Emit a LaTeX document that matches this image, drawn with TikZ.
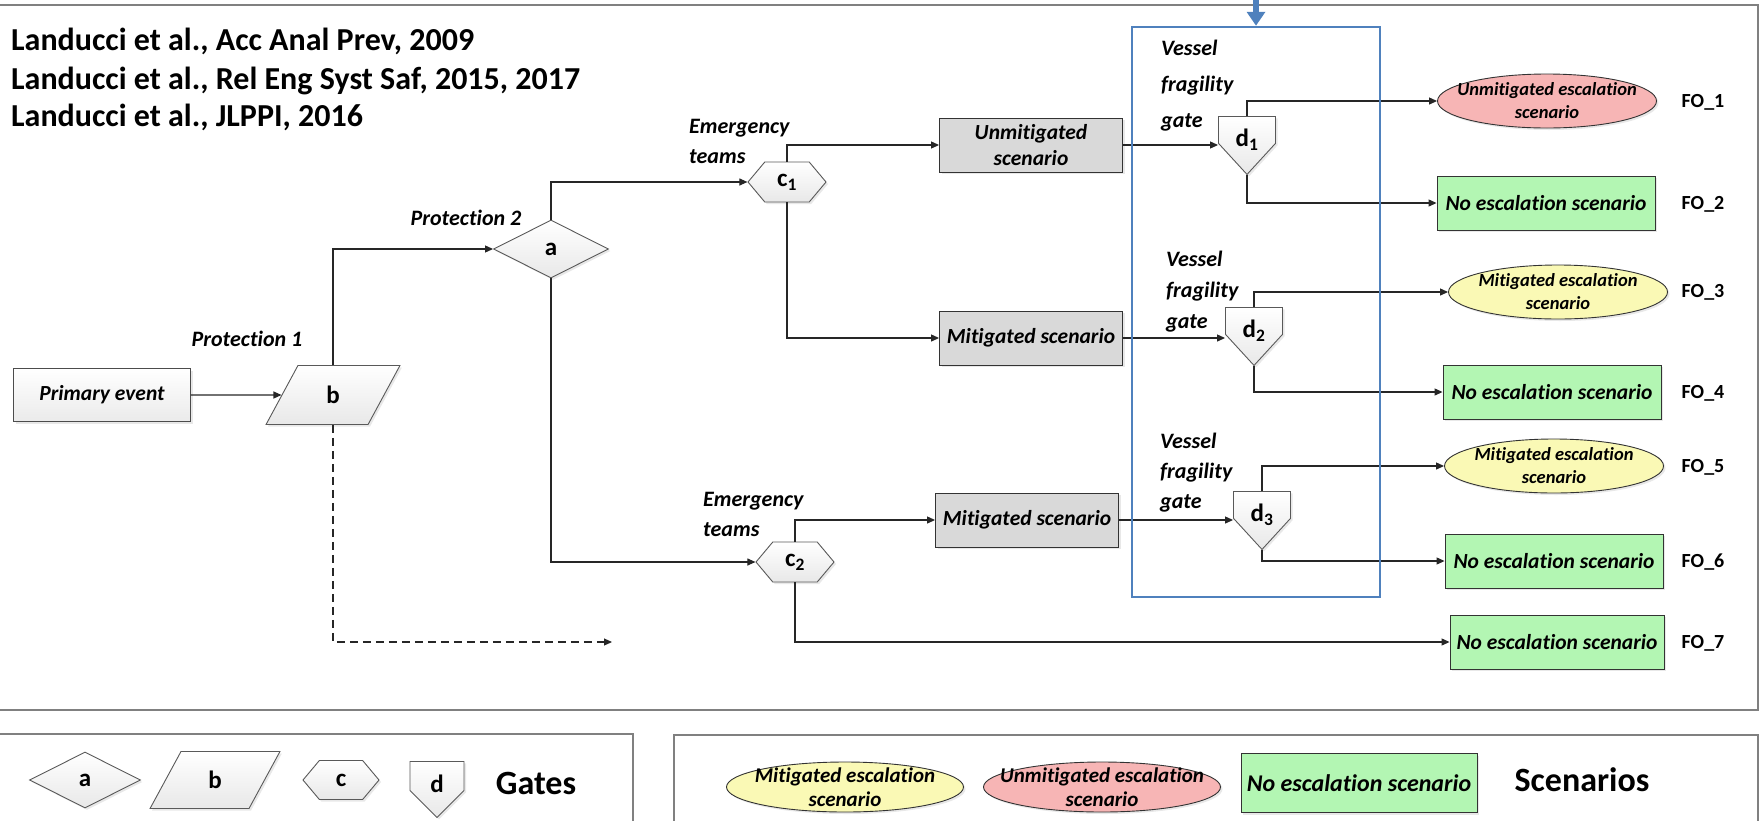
\documentclass[tikz,border=0pt]{standalone}
\usepackage{fontspec}
\setmainfont{Carlito}[Ligatures=NoCommon]
\usetikzlibrary{positioning,shapes.geometric,shapes.symbols,arrows.meta,shadows}

\definecolor{escgreen}{HTML}{B3F6B3}
\definecolor{escpink}{HTML}{F7B5B5}
\definecolor{escyellow}{HTML}{FAF9B5}
\definecolor{scengray}{HTML}{D9D9D9}
\definecolor{fragblue}{HTML}{4F81BD}
\definecolor{framegray}{HTML}{808080}

\newcommand{\reffont}{\fontsize{32}{38}\selectfont\bfseries}
\newcommand{\gatefont}{\fontsize{25}{30}\selectfont\bfseries}
\newcommand{\tagfont}{\fontsize{22}{30}\selectfont\bfseries\itshape}
\newcommand{\boxfont}{\fontsize{21.5}{26}\selectfont\bfseries\itshape}
\newcommand{\noescfont}{\fontsize{21.5}{26}\selectfont\bfseries\itshape}
\newcommand{\esctextfont}{\fontsize{18.5}{23}\selectfont\bfseries\itshape}
\newcommand{\legtextfont}{\fontsize{21}{24}\selectfont\bfseries\itshape}
\newcommand{\fofont}{\fontsize{20}{24}\selectfont\bfseries}
\newcommand{\legtitlefont}{\fontsize{34}{40}\selectfont\bfseries}
% label of a fragility gate, sitting low in the pentagon
\newcommand{\dlabel}[1]{\raisebox{-17pt}[0pt][0pt]{#1}}

\tikzset{
  conn/.style={-{Triangle[length=8pt,width=7pt]}, line width=1.1pt, black!85},
  softshadow/.style={drop shadow={shadow xshift=2pt,shadow yshift=-2pt,opacity=0.18}},
  gate/.style={draw=black!65, line width=0.9pt, top color=white, bottom color=black!9, inner sep=0pt, font=\gatefont, softshadow},
  gatea/.style={gate, diamond, aspect=2},
  gateb/.style={gate, trapezium, trapezium left angle=71, trapezium right angle=109, trapezium stretches=true},
  gatec/.style={gate, signal, signal to=east and west, signal pointer angle=100},
  gated/.style={gate, signal, signal to=south, align=center, anchor=north},
  tag/.style={font=\tagfont, align=left, inner sep=0pt},
  primbox/.style={draw=black!70, line width=0.9pt, top color=white, bottom color=black!8, font=\boxfont, softshadow},
  scenbox/.style={draw=black!80, line width=0.9pt, fill=scengray, font=\boxfont, align=center, inner sep=1pt, minimum width=183, minimum height=54, softshadow},
  noesc/.style={draw=black!80, line width=0.9pt, fill=escgreen, font=\noescfont, inner sep=1pt, minimum width=218, minimum height=54, softshadow},
  escell/.style={ellipse, draw=black!80, line width=0.9pt, inner sep=0pt, minimum width=219, minimum height=54, softshadow},
  escmit/.style={escell, fill=escyellow},
  escunm/.style={escell, fill=escpink},
  esctext/.style={font=\esctextfont, align=center, inner sep=0pt},
  legtext/.style={font=\legtextfont, align=center, inner sep=0pt},
  fo/.style={font=\fofont, inner sep=0pt},
  legtitle/.style={font=\legtitlefont, inner sep=0pt},
  frame/.style={draw=framegray, line width=2pt},
}

\begin{document}
\begin{tikzpicture}[x=1pt,y=-1pt]
\useasboundingbox (0,0) rectangle (1762,820);
\clip (0,0) rectangle (1762,820);
% frames
\draw[frame] (-10,5) rectangle (1758,710);
\draw[frame] (-10,734) rectangle (633,830);
\draw[frame] (674,735) rectangle (1758,830);

% references
\foreach \n/\y/\txt in {1/50/{Landucci et al., Acc Anal Prev, 2009},2/89/{Landucci et al., Rel Eng Syst Saf, 2015, 2017},3/126/{Landucci et al., JLPPI, 2016}}
  \node[font=\reffont, inner sep=0pt, anchor=base west] (ref\n) at (11,\y) {\txt};

% gates and events
\node[primbox, minimum width=177, minimum height=53] (pe) at (102,395) {Primary event};
\node[gateb, minimum width=134, minimum height=59] (b) at (333,395) {b};
\node[gatea, minimum width=115, minimum height=58] (a) at (551,249) {a};
\node[gatec, minimum width=78, minimum height=40] (c1) at (787,182) {c\textsubscript{1}};
\node[gatec, minimum width=78, minimum height=40] (c2) at (795,562) {c\textsubscript{2}};
\node[scenbox] (unm) at (1031,145) {Unmitigated\\scenario};
\node[scenbox] (mit1) at (1031,338) {Mitigated scenario};
\node[scenbox] (mit2) at (1027,520) {Mitigated scenario};
\node[gated, signal pointer angle=85, text width=57pt, minimum height=58] (d1) at (1247,116) {\dlabel{d\textsubscript{1}}};
\node[gated, signal pointer angle=85, text width=57pt, minimum height=58] (d2) at (1254,307) {\dlabel{d\textsubscript{2}}};
\node[gated, signal pointer angle=85, text width=57pt, minimum height=58] (d3) at (1262,491) {\dlabel{d\textsubscript{3}}};

% outcomes
\node[escunm, label={[esctext]center:{Unmitigated escalation\\scenario}}] (e1) at (1547,101) {};
\node[noesc] (n2) at (1546,203) {No escalation scenario};
\node[escmit, label={[esctext]center:{Mitigated escalation\\scenario}}] (e3) at (1558,292) {};
\node[noesc] (n4) at (1552,392) {No escalation scenario};
\node[escmit, label={[esctext]center:{Mitigated escalation\\scenario}}] (e5) at (1554,466) {};
\node[noesc] (n6) at (1554,561) {No escalation scenario};
\node[noesc, minimum width=214] (n7) at (1557,642) {No escalation scenario};
\foreach \i/\y in {1/102,2/204,3/292,4/393,5/467,6/562,7/643}
  \node[fo] (fo\i) at (1703,\y) {FO\_\i};

% labels
\node[tag] (prot1) at (247,339) {Protection 1};
\node[tag] (prot2) at (466,218) {Protection 2};
\node[tag, anchor=west] (team1) at (689,141) {Emergency\\teams};
\node[tag, anchor=west] (team2) at (703,514) {Emergency\\teams};
\foreach \n/\x/\y/\s in {1/1161/86/36,2/1166/292/31,3/1160/473/30}
  \node[tag, anchor=west, font=\fontsize{22}{\s}\selectfont\bfseries\itshape] (vfg\n) at (\x,\y) {Vessel\\fragility\\gate};

% connectors
\coordinate (open) at (612,642);
\draw[conn] (pe) -- (b);
\draw[conn] (b.center |- b.north) |- (a);
\draw[conn, dash pattern=on 8pt off 5pt] (b.center |- b.south) |- (open);
\draw[conn] (a.north) |- (c1);
\draw[conn] (a.south) |- (c2);
\draw[conn] (c1.north) |- (unm);
\draw[conn] (c1.south) |- (mit1);
\draw[conn] (c2.north) |- (mit2);
\draw[conn] (c2.south) |- (n7);
\draw[conn] (unm.east) -- (unm.east -| d1.west);
\draw[conn] (mit1.east) -- (mit1.east -| d2.west);
\draw[conn] (mit2.east) -- (mit2.east -| d3.west);
\draw[conn] (d1.north) |- (e1);
\draw[conn] (d1.south) |- (n2);
\draw[conn] (d2.north) |- (e3);
\draw[conn] (d2.south) |- (n4);
\draw[conn] (d3.north) |- (e5);
\draw[conn] (d3.south) |- (n6);

% vessel fragility block
\node[draw=fragblue, line width=2.5pt, minimum width=248, minimum height=570, inner sep=0pt] (frag) at (1256,312) {};
\coordinate (feed) at (1256,-6);
\draw[fragblue, line width=6pt, -{Triangle[length=14pt,width=18pt]}] (feed) -- (frag.north);

% legend
\node[gatea, minimum width=111, minimum height=56] (la) at (85,780) {a};
\node[gateb, minimum width=130, minimum height=57] (lb) at (215,780) {b};
\node[gatec, minimum width=76, minimum height=39] (lc) at (341,780) {c};
\node[gated, signal pointer angle=90, text width=54pt, minimum height=56] (ld) at (437,761) {\dlabel{d}};
\node[legtitle] (gates) at (536,783) {Gates};
\node[escmit, minimum width=237, minimum height=50, label={[legtext]center:{Mitigated escalation\\scenario}}] (lm) at (845,787) {};
\node[escunm, minimum width=237, minimum height=50, label={[legtext]center:{Unmitigated escalation\\scenario}}] (lu) at (1102,787) {};
\node[noesc, minimum width=236, minimum height=59, font=\fontsize{24}{30}\selectfont\bfseries\itshape] (ln) at (1359,783) {No escalation scenario};
\node[legtitle] (scen) at (1582,780) {Scenarios};
\end{tikzpicture}
\end{document}
